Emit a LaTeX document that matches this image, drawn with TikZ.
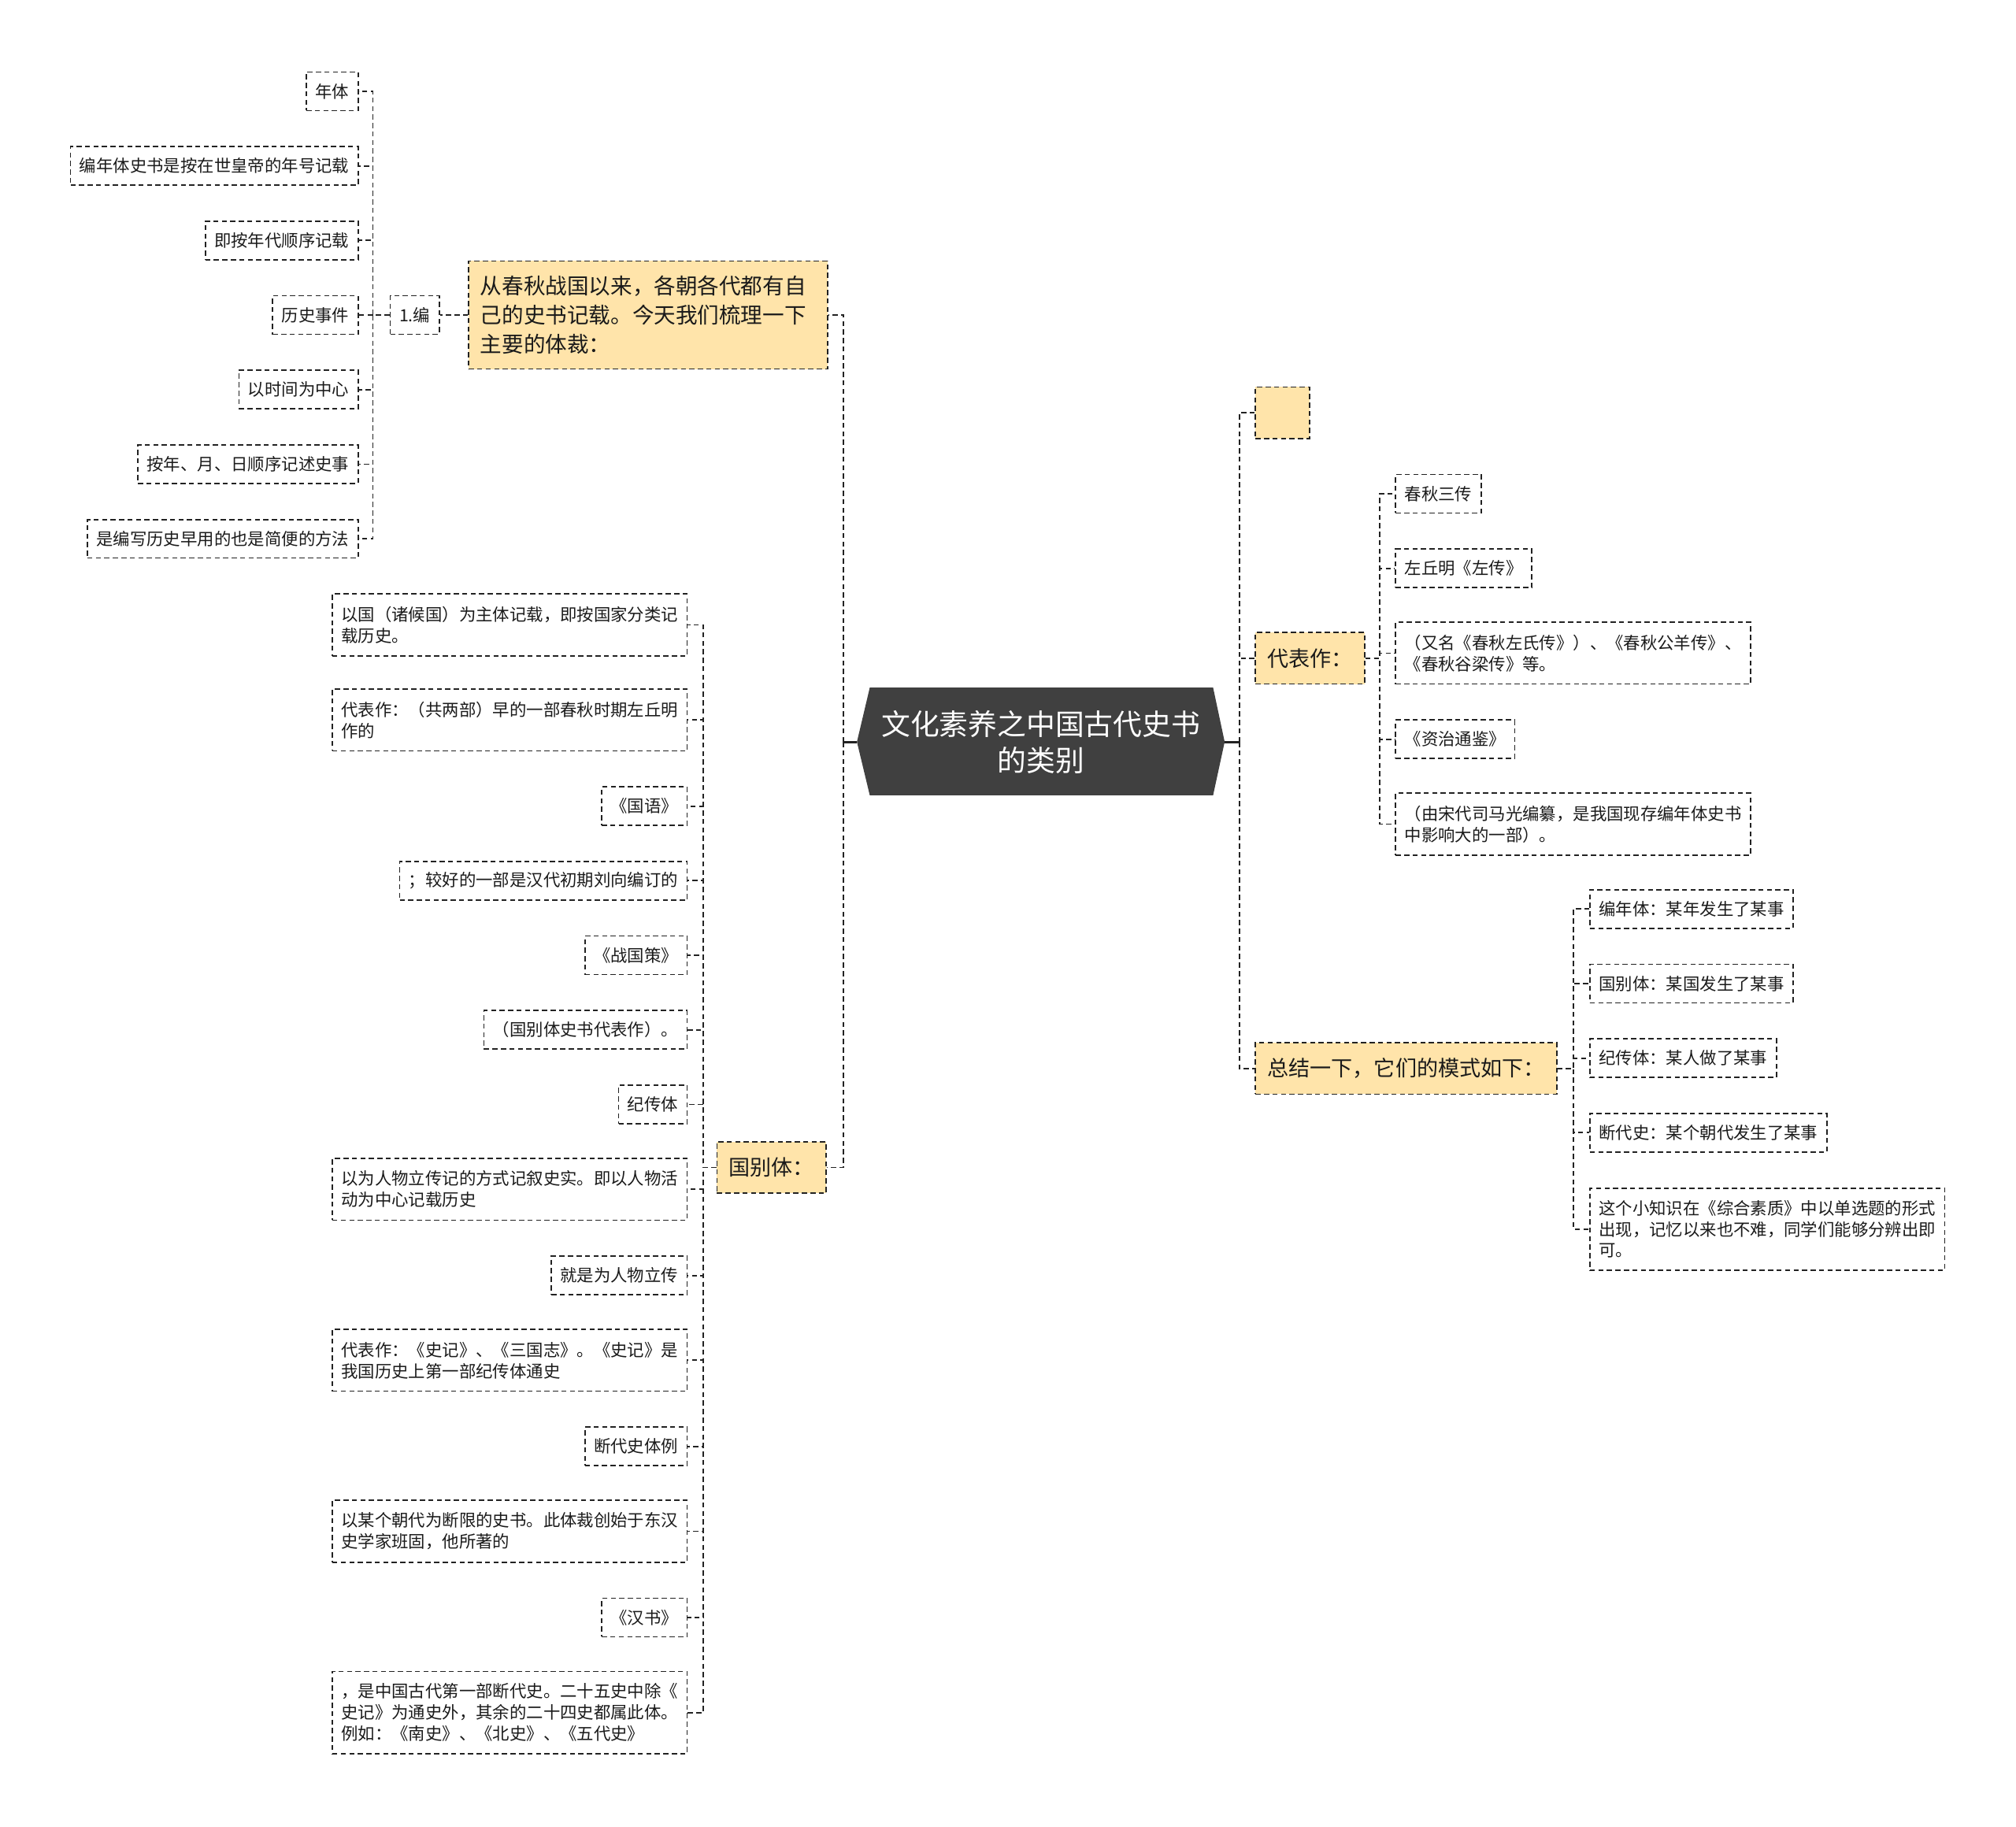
\documentclass[tikz,border=0pt]{standalone}
\usepackage{fontspec}
\setmainfont{Noto Sans CJK SC}
\definecolor{yel}{HTML}{FFE4AA}
\definecolor{rootc}{HTML}{404040}
\definecolor{lc}{HTML}{222222}
\definecolor{tc}{HTML}{1A1A1A}
\tikzset{
  line/.style={draw=lc, line width=0.55pt, dash pattern=on 2pt off 1.3pt},
  leaf/.style={line, font=\fontsize{6.55pt}{8.25pt}\selectfont, text=tc, inner xsep=3.5pt, inner ysep=0pt, minimum height=15pt},
  leafw/.style={leaf, text width=131pt, align=left},
  mid/.style={line, fill=yel, font=\fontsize{8.3pt}{10.5pt}\selectfont, text=tc, inner xsep=4.6pt, inner ysep=0pt, minimum height=20pt},
  solidc/.style={draw=lc, line width=0.9pt},
}
\begin{document}
\begin{tikzpicture}[x=0.5pt,y=-0.5pt]
\useasboundingbox (0,0) rectangle (1568,1420.4);
% root
\fill[rootc] (666.5,577) -- (676.5,534.7) -- (943.5,534.7) -- (952.5,577) -- (943.5,618.6) -- (676.5,618.6) -- cycle;
\node[text=white, align=center, font=\fontsize{11.27pt}{14.1pt}\selectfont] (root) at (809.5,577) {文化素养之中国古代史书\\的类别};
\coordinate (rootL) at (666.5,577);
\coordinate (rootR) at (952.5,577);
\coordinate (tL) at (656,577);
\coordinate (tR) at (964,577);

% left: intro
\node[mid, anchor=west, text width=130.5pt, align=left, inner xsep=4.5pt, minimum height=42pt, font=\fontsize{8.45pt}{11.25pt}\selectfont] (intro) at (364,245) {从春秋战国以来，各朝各代都有自\\己的史书记载。今天我们梳理一下\\主要的体裁：};
\node[leaf, anchor=west] (bian) at (303,245) {1.编};
\coordinate (tA) at (290,245);
\node[leaf, anchor=east] (a1) at (279,71) {年体};
\node[leaf, anchor=east] (a2) at (279,129) {编年体史书是按在世皇帝的年号记载};
\node[leaf, anchor=east] (a3) at (279,187) {即按年代顺序记载};
\node[leaf, anchor=east] (a4) at (279,245) {历史事件};
\node[leaf, anchor=east] (a5) at (279,303) {以时间为中心};
\node[leaf, anchor=east] (a6) at (279,361) {按年、月、日顺序记述史事};
\node[leaf, anchor=east] (a7) at (279,419) {是编写历史早用的也是简便的方法};

% left: guobieti
\node[mid, anchor=east] (gbt) at (643,908) {国别体：};
\coordinate (tG) at (547,908);
\node[leafw, anchor=east, minimum height=24pt] (g1) at (535,486) {以国（诸候国）为主体记载，即按国家分类记\\载历史。};
\node[leafw, anchor=east, minimum height=24pt] (g2) at (535,560) {代表作：（共两部）早的一部春秋时期左丘明\\作的};
\node[leaf, anchor=east] (g3) at (535,627) {《国语》};
\node[leaf, anchor=east] (g4) at (535,685) {；较好的一部是汉代初期刘向编订的};
\node[leaf, anchor=east] (g5) at (535,743) {《战国策》};
\node[leaf, anchor=east] (g6) at (535,801) {（国别体史书代表作）。};
\node[leaf, anchor=east] (g7) at (535,859) {纪传体};
\node[leafw, anchor=east, minimum height=24pt] (g8) at (535,925) {以为人物立传记的方式记叙史实。即以人物活\\动为中心记载历史};
\node[leaf, anchor=east] (g9) at (535,992) {就是为人物立传};
\node[leafw, anchor=east, minimum height=24pt] (g10) at (535,1058) {代表作：《史记》、《三国志》。《史记》是\\我国历史上第一部纪传体通史};
\node[leaf, anchor=east] (g11) at (535,1125) {断代史体例};
\node[leafw, anchor=east, minimum height=24pt] (g12) at (535,1191) {以某个朝代为断限的史书。此体裁创始于东汉\\史学家班固，他所著的};
\node[leaf, anchor=east] (g13) at (535,1258) {《汉书》};
\node[leafw, anchor=east, minimum height=32pt] (g14) at (535,1332) {，是中国古代第一部断代史。二十五史中除《\\史记》为通史外，其余的二十四史都属此体。\\例如：《南史》、《北史》、《五代史》};

% right
\node[mid, anchor=west, minimum width=21pt] (empty) at (976,321) {};
\node[mid, anchor=west] (dbz) at (976,512) {代表作：};
\node[mid, anchor=west] (zj) at (976,831) {总结一下，它们的模式如下：};
\coordinate (tD) at (1073,512);
\coordinate (tZ) at (1224,831);
\node[leaf, anchor=west] (d1) at (1085,384) {春秋三传};
\node[leaf, anchor=west] (d2) at (1085,442) {左丘明《左传》};
\node[leafw, anchor=west, minimum height=24pt] (d3) at (1085,508) {（又名《春秋左氏传》）、《春秋公羊传》、\\《春秋谷梁传》等。};
\node[leaf, anchor=west] (d4) at (1085,575) {《资治通鉴》};
\node[leafw, anchor=west, minimum height=24pt] (d5) at (1085,641) {（由宋代司马光编纂，是我国现存编年体史书\\中影响大的一部）。};
\node[leaf, anchor=west] (z1) at (1236,707) {编年体：某年发生了某事};
\node[leaf, anchor=west] (z2) at (1236,765) {国别体：某国发生了某事};
\node[leaf, anchor=west] (z3) at (1236,823) {纪传体：某人做了某事};
\node[leaf, anchor=west] (z4) at (1236,881) {断代史：某个朝代发生了某事};
\node[leafw, anchor=west, minimum height=32pt] (z5) at (1236,956) {这个小知识在《综合素质》中以单选题的形式\\出现，记忆以来也不难，同学们能够分辨出即\\可。};

% connectors
\draw[solidc] (rootL) -- (tL);
\draw[solidc] (rootR) -- (tR);
\foreach \c in {intro,gbt} \draw[line] (tL) |- (\c.east);
\draw[line] (intro.west) -- (bian.east);
\foreach \c in {a1,a2,a3,a4,a5,a6,a7} \draw[line] (bian.west) -- (tA) |- (\c.east);
\foreach \c in {g1,g2,g3,g4,g5,g6,g7,g8,g9,g10,g11,g12,g13,g14} \draw[line] (gbt.west) -- (tG) |- (\c.east);
\foreach \c in {empty,dbz,zj} \draw[line] (tR) |- (\c.west);
\foreach \c in {d1,d2,d3,d4,d5} \draw[line] (dbz.east) -- (tD) |- (\c.west);
\foreach \c in {z1,z2,z3,z4,z5} \draw[line] (zj.east) -- (tZ) |- (\c.west);
\end{tikzpicture}
\end{document}
